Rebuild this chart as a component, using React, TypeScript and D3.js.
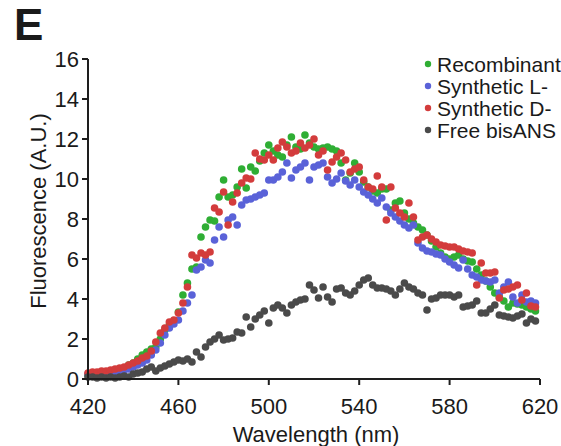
import React from "react";
import * as d3 from "d3";

const wavelengths: number[] = d3.range(420, 620, 2);

const recombinant: number[] = [
  0.2, 0.25, 0.3, 0.3, 0.3, 0.35, 0.4, 0.45, 0.55, 0.7,
  0.8, 1.0, 1.2, 1.35, 1.5, 1.6, 2.0, 2.45, 2.7, 2.9,
  3.35, 4.2, 4.8, 5.5, 5.6, 7.1, 7.6, 7.95, 7.9, 9.1,
  9.95, 9.1, 9.2, 9.6, 10.5, 9.55, 10.6, 10.4, 10.9, 11.3,
  11.7, 11.4, 11.2, 11.1, 11.7, 12.1, 11.6, 11.5, 12.2, 11.8,
  11.6, 11.5, 11.55, 11.6, 11.5, 11.4, 10.8, 9.95, 10.3, 10.8,
  10.35, 9.85, 9.6, 9.4, 9.3, 9.5, 9.5, 8.45, 8.8, 8.9,
  8.3, 8.0, 7.8, 7.6, 7.45, 7.2, 6.9, 6.6, 6.3, 6.1,
  6.0, 6.1, 6.2, 6.0, 5.9, 5.85, 5.5, 5.2, 4.9, 4.6,
  4.3, 4.1, 3.9, 3.6, 3.8, 3.75, 3.7, 3.6, 3.5, 3.4,
];

const syntheticL: number[] = [
  0.25, 0.25, 0.3, 0.3, 0.3, 0.3, 0.35, 0.4, 0.45, 0.5,
  0.6, 0.7, 0.8, 0.95, 1.2, 1.45, 1.8, 2.2, 2.55, 2.75,
  2.95, 3.4, 3.8, 4.2, 5.45, 5.6, 5.95, 5.8, 6.95, 7.6,
  7.1, 7.95, 8.1, 7.7, 8.7, 8.95, 9.0, 9.1, 9.2, 9.3,
  9.95, 9.95, 10.1, 10.35, 10.8, 10.05, 10.45, 10.6, 10.8, 9.95,
  10.6, 10.7, 10.8, 10.1, 9.8, 10.0, 10.3, 9.9, 9.7, 9.95,
  9.6, 9.35, 9.2, 9.0, 8.8, 9.05, 8.6, 8.3, 8.1, 7.9,
  7.7, 7.55, 7.7, 6.8, 6.55, 6.4, 6.35, 6.25, 6.2, 6.0,
  5.85, 5.7, 5.55, 5.95, 5.5, 5.2, 5.1, 4.95, 4.9, 4.85,
  4.95, 4.3, 4.6, 4.85, 4.1, 3.8, 4.2, 3.85, 3.9, 3.8,
];

const syntheticD: number[] = [
  0.3, 0.35, 0.35, 0.4, 0.4, 0.45, 0.5, 0.55, 0.6, 0.7,
  0.8, 0.9, 1.05, 1.15, 1.4, 1.85, 2.3, 2.55, 2.85, 2.95,
  3.3, 3.8, 4.6, 6.2, 6.05, 6.3, 6.2, 6.35, 8.55, 8.35,
  9.35, 7.7, 8.85, 9.3, 9.8, 10.05, 10.0, 11.3, 11.0, 10.95,
  11.2, 10.95, 11.55, 11.85, 11.6, 11.3, 11.4, 11.8, 11.55, 11.7,
  12.0, 11.2, 11.4, 10.45, 10.85, 11.1, 11.3, 10.95, 10.35, 10.5,
  10.6, 9.95, 9.6, 9.5, 10.15, 9.6, 7.95, 9.6, 8.55, 8.3,
  8.1, 8.8, 8.1, 6.95, 7.1, 7.2, 7.0, 6.85, 6.7, 6.65,
  6.6, 6.6, 6.5, 6.4, 6.35, 6.3, 4.7, 5.8, 5.3, 5.3,
  5.35, 4.05, 4.45, 4.5, 4.6, 4.7, 3.95, 4.3, 3.65, 3.6,
];

const freeBisANS: number[] = [
  0.1, 0.1, 0.05, 0.1, 0.05, 0.1, 0.05, 0.1, 0.15, 0.1,
  0.25, 0.3, 0.35, 0.5, 0.6, 0.4, 0.55, 0.65, 0.75, 0.85,
  0.95, 0.9, 1.0, 0.85, 1.35, 1.1, 1.6, 1.85, 2.0, 2.2,
  1.95, 2.0, 2.05, 2.35, 2.3, 3.1, 2.6, 3.0, 3.2, 3.4,
  2.8, 3.55, 3.7, 3.55, 3.3, 3.7, 3.85, 3.95, 4.0, 4.7,
  4.45, 4.05, 4.6, 4.1, 3.85, 4.5, 4.55, 4.3, 4.2, 4.4,
  4.7, 4.95, 5.05, 4.7, 4.55, 4.55, 4.5, 4.4, 4.2, 4.5,
  4.8, 4.6, 4.5, 4.3, 4.2, 3.45, 4.0, 4.05, 4.2, 4.2,
  4.2, 4.1, 4.2, 3.6, 3.65, 3.7, 3.9, 3.3, 3.3, 3.5,
  3.7, 3.2, 3.15, 3.1, 3.05, 3.15, 3.25, 2.8, 3.0, 2.9,
];

const seriesNames: string[] = [
  "Recombinant",
  "Synthetic L-",
  "Synthetic D-",
  "Free bisANS",
];
const seriesColors: string[] = ["#2fae34", "#5a62d8", "#d33c3c", "#4a4a4a"];
const seriesValues: number[][] = [recombinant, syntheticL, syntheticD, freeBisANS];

const xTicks: number[] = [420, 460, 500, 540, 580, 620];
const yTicks: number[] = [0, 2, 4, 6, 8, 10, 12, 14, 16];

const FONT = "'Liberation Sans', Arial, sans-serif";

export default function App() {
  const x = d3.scaleLinear().domain([420, 620]).range([88, 540]);
  const y = d3.scaleLinear().domain([0, 16]).range([379, 59]);
  const axisColor = "#1e1e1e";

  return (
    <svg
      width={561}
      height={446}
      style={{ position: "absolute", left: 0, top: 0, background: "#fff" }}
      fontFamily={FONT}
    >
      <rect width={561} height={446} fill="#fff" />
      <text x={14} y={40} fontSize={44} fontWeight="bold" fill="#1a1a1a">
        E
      </text>

      {/* data */}
      {seriesValues.map((vals, si) => (
        <g key={si} fill={seriesColors[si]}>
          {vals.map((v, i) => (
            <circle key={i} cx={x(wavelengths[i])} cy={y(v)} r={3.8} />
          ))}
        </g>
      ))}

      {/* y axis */}
      <line x1={88} x2={88} y1={y(16)} y2={y(0)} stroke={axisColor} strokeWidth={2} />
      {yTicks.map((t) => (
        <g key={t}>
          <line x1={82} x2={88} y1={y(t)} y2={y(t)} stroke={axisColor} strokeWidth={2} />
          <text
            x={79}
            y={y(t)}
            fontSize={22}
            textAnchor="end"
            dominantBaseline="central"
            fill="#1a1a1a"
          >
            {t}
          </text>
        </g>
      ))}

      {/* x axis */}
      <line x1={x(420)} x2={x(620)} y1={379} y2={379} stroke={axisColor} strokeWidth={2} />
      {xTicks.map((t) => (
        <g key={t}>
          <line x1={x(t)} x2={x(t)} y1={379} y2={385} stroke={axisColor} strokeWidth={2} />
          <text x={x(t)} y={414} fontSize={22} textAnchor="middle" fill="#1a1a1a">
            {t}
          </text>
        </g>
      ))}

      <text x={316} y={442} fontSize={22} textAnchor="middle" fill="#1a1a1a">
        Wavelength (nm)
      </text>
      <text
        transform={`translate(46, ${y(8) - 8}) rotate(-90)`}
        fontSize={22}
        textAnchor="middle"
        fill="#1a1a1a"
      >
        Fluorescence (A.U.)
      </text>

      {/* legend */}
      {seriesNames.map((name, i) => (
        <g key={name} transform={`translate(428, ${64 + i * 22})`}>
          <circle cx={0} cy={0} r={3.2} fill={seriesColors[i]} />
          <text x={9} y={0} fontSize={21} dominantBaseline="central" fill="#1a1a1a">
            {name}
          </text>
        </g>
      ))}
    </svg>
  );
}
